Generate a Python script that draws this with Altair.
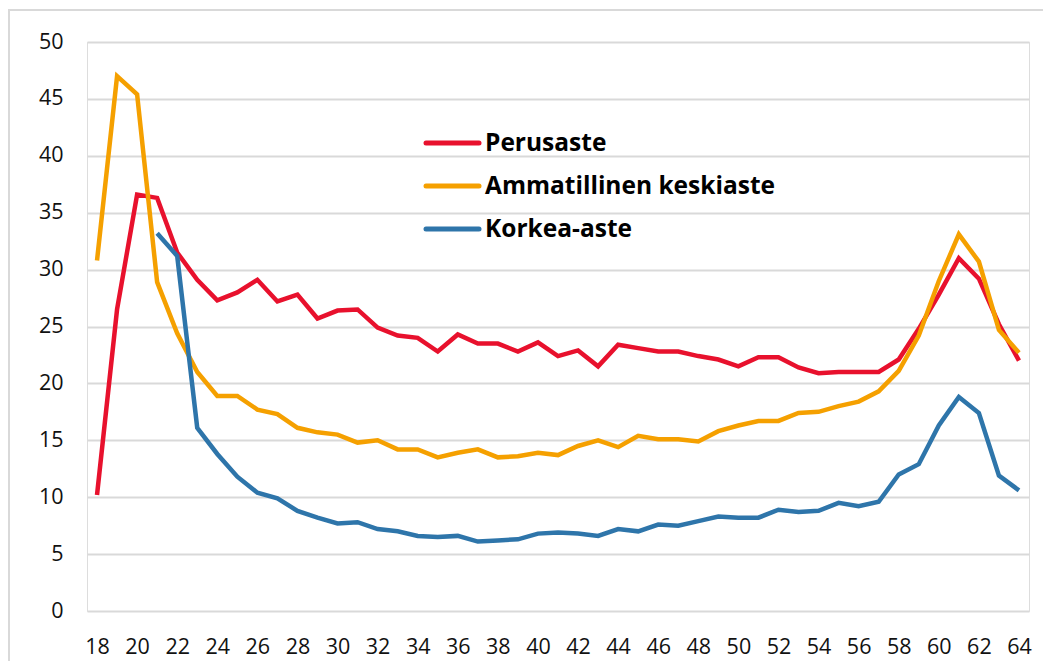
import altair as alt
import pandas as pd

ages = list(range(18, 65))

perusaste = [10.2, 26.5, 36.6, 36.3, 31.5, 29.1, 27.3, 28.0, 29.1, 27.2,
             27.8, 25.7, 26.4, 26.5, 24.9, 24.2, 24.0, 22.8, 24.3, 23.5,
             23.5, 22.8, 23.6, 22.4, 22.9, 21.5, 23.4, 23.1, 22.8, 22.8,
             22.4, 22.1, 21.5, 22.3, 22.3, 21.4, 20.9, 21.0, 21.0, 21.0,
             22.1, 24.8, 27.8, 31.0, 29.2, 25.2, 22.0]

ammatillinen = [30.8, 47.0, 45.4, 28.9, 24.4, 21.0, 18.9, 18.9, 17.7, 17.3,
                16.1, 15.7, 15.5, 14.8, 15.0, 14.2, 14.2, 13.5, 13.9, 14.2,
                13.5, 13.6, 13.9, 13.7, 14.5, 15.0, 14.4, 15.4, 15.1, 15.1,
                14.9, 15.8, 16.3, 16.7, 16.7, 17.4, 17.5, 18.0, 18.4, 19.3,
                21.1, 24.2, 29.0, 33.1, 30.7, 24.7, 22.7]

# Korkea-aste starts at age 21
korkea = [None, None, None, 33.2, 31.2, 16.1, 13.8, 11.8, 10.4, 9.9,
          8.8, 8.2, 7.7, 7.8, 7.2, 7.0, 6.6, 6.5, 6.6, 6.1,
          6.2, 6.3, 6.8, 6.9, 6.8, 6.6, 7.2, 7.0, 7.6, 7.5,
          7.9, 8.3, 8.2, 8.2, 8.9, 8.7, 8.8, 9.5, 9.2, 9.6,
          12.0, 12.9, 16.3, 18.8, 17.4, 11.9, 10.6]

series_names = ["Perusaste", "Ammatillinen keskiaste", "Korkea-aste"]
series_colors = ["#E8112D", "#F5A000", "#2E75AA"]
x_ticks = list(range(18, 65, 2))
y_ticks = list(range(0, 51, 5))

rows = []
for name, vals in zip(series_names, [perusaste, ammatillinen, korkea]):
    for a, v in zip(ages, vals):
        if v is not None:
            rows.append({"ika": a, "arvo": v, "sarja": name})
df = pd.DataFrame(rows)

FONT = "Open Sans"
W, H = 942, 569

color_scale = alt.Scale(domain=series_names, range=series_colors)

lines = alt.Chart(df).mark_line(strokeWidth=4.5, strokeJoin="miter").encode(
    x=alt.X("ika:Q",
            scale=alt.Scale(domain=[17.5, 64.5], nice=False, zero=False),
            axis=alt.Axis(values=x_ticks, title=None, grid=False, domain=False,
                          ticks=False, labelFontSize=21.5, labelFont=FONT,
                          labelColor="#111111", labelPadding=25, labelFlush=False)),
    y=alt.Y("arvo:Q",
            scale=alt.Scale(domain=[0, 50], nice=False),
            axis=alt.Axis(values=y_ticks, title=None, grid=True, gridColor="#d9d9d9",
                          gridWidth=2, domain=False, ticks=False, labelFontSize=21.5,
                          labelFont=FONT, labelColor="#111111", labelPadding=24)),
    color=alt.Color("sarja:N", scale=color_scale, sort=series_names, legend=None),
    detail="sarja:N",
)

frame_df = pd.DataFrame({"k": [0]})
frame = alt.Chart(frame_df).mark_rect(fill=None, stroke="#d9d9d9", strokeWidth=2).encode(
    x=alt.value(-78), x2=alt.value(W + 40), y=alt.value(-32), y2=alt.value(H + 60)
)

legend_layers = []
row_y = [101, 144, 187]
for name, col, yy in zip(series_names, series_colors, row_y):
    ldf = pd.DataFrame({"sarja": [name]})
    legend_layers.append(
        alt.Chart(ldf).mark_rule(strokeWidth=5, strokeCap="round", color=col).encode(
            x=alt.value(339), x2=alt.value(392), y=alt.value(yy)
        )
    )
    legend_layers.append(
        alt.Chart(ldf).mark_text(align="left", baseline="middle", font=FONT,
                                 fontSize=24.5, fontWeight="bold", color="#000000").encode(
            x=alt.value(398), y=alt.value(yy + 1), text="sarja:N"
        )
    )

chart = alt.layer(frame, lines, *legend_layers).properties(
    width=W, height=H,
    autosize=alt.AutoSizeParams(type="none"),
    padding={"left": 79, "top": 34, "right": 14, "bottom": 50},
).configure_view(stroke=None).configure(background="white")

chart.save("out.html", embed_options={"renderer": "svg", "actions": False})
